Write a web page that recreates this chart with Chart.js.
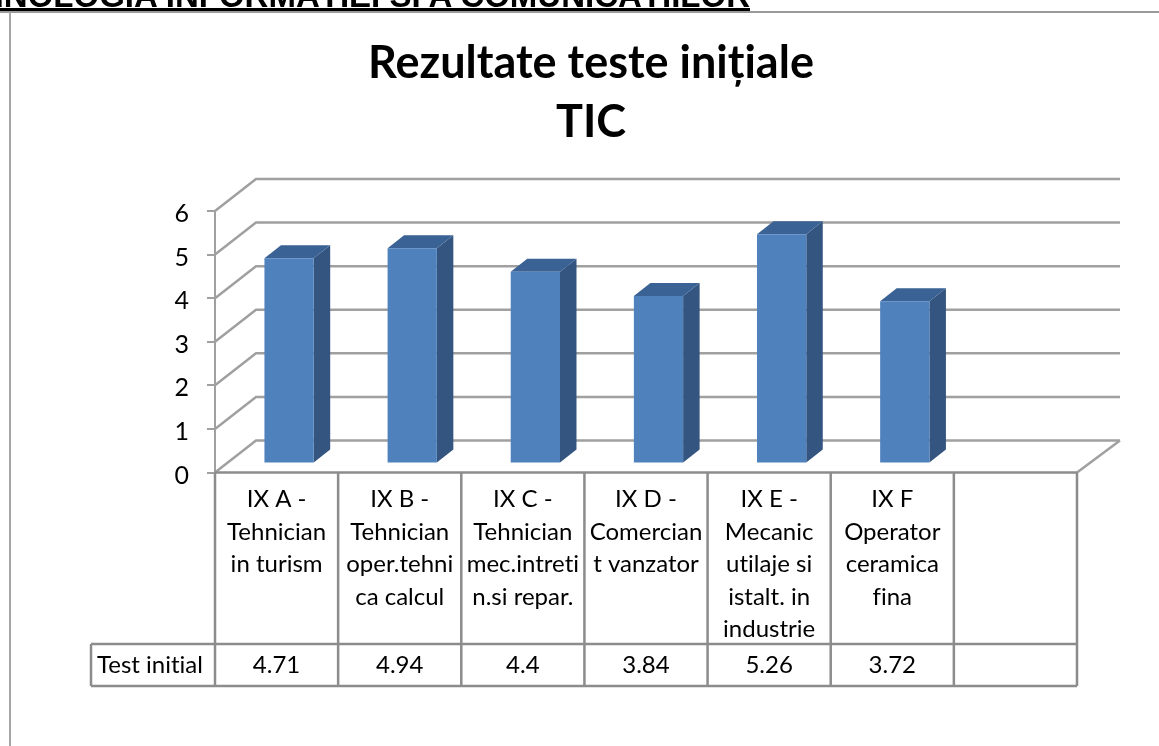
<!DOCTYPE html>
<html>
<head>
<meta charset="utf-8">
<script src="https://cdn.jsdelivr.net/npm/chart.js@4"></script>
<style>
html,body{margin:0;padding:0;background:#fff;width:1159px;height:746px;overflow:hidden}
#wrap{position:relative;width:1159px;height:746px}
#c{position:absolute;left:0;top:0;filter:blur(0.5px)}
#head{position:absolute;left:0;top:-20px;width:750px;height:28px;overflow:hidden;white-space:nowrap;font:bold 33px "Liberation Sans",sans-serif;color:#000;border-bottom:3px solid #000;text-align:right;line-height:31px;direction:rtl}
#rule{position:absolute;left:0;top:11px;width:1159px;height:2px;background:#9a9a9a}
#edge{position:absolute;left:9px;top:12px;width:2px;height:734px;background:#a6a6a6}
</style>
</head>
<body>
<div id="wrap">
<canvas id="c" width="1159" height="746"></canvas>
<div id="rule"></div>
<div id="edge"></div>
<div id="head">TEHNOLOGIA INFORMAȚIEI ȘI A COMUNICAȚIILOR</div>
</div>
<script>
const titleLines = ["Rezultate teste inițiale", "TIC"];
const categories = [
  ["IX A -", "Tehnician", "in turism"],
  ["IX B -", "Tehnician", "oper.tehni", "ca calcul"],
  ["IX C -", "Tehnician", "mec.intreti", "n.si repar."],
  ["IX D -", "Comercian", "t vanzator"],
  ["IX E -", "Mecanic", "utilaje si", "istalt. in", "industrie"],
  ["IX F", "Operator", "ceramica", "fina"],
  ""
];
const seriesName = "Test initial";
const seriesValues = [4.71, 4.94, 4.4, 3.84, 5.26, 3.72, null];
const yTicks = [0, 1, 2, 3, 4, 5, 6];

const FONT = 'Lato, sans-serif';
const GRID = '#a0a0a0';
const TABLE = '#8c8c8c';
const BACK = {dx: 41, dy: -32};
const BAR_SHIFT = {dx: 12.5, dy: -9};
const BAR_DEPTH = {dx: 16.5, dy: -13};

const wall3d = {
  id: 'wall3d',
  beforeDraw(chart) {
    chart.ctx.textRendering = 'optimizeSpeed';
  },
  beforeDatasetsDraw(chart) {
    const {ctx, chartArea: a, scales: {y}} = chart;
    ctx.save();
    ctx.strokeStyle = GRID;
    ctx.lineWidth = 2.5;
    yTicks.forEach(v => {
      const py = y.getPixelForValue(v);
      ctx.beginPath();
      ctx.moveTo(a.left, py);
      ctx.lineTo(a.left + BACK.dx, py + BACK.dy);
      ctx.lineTo(a.right + BACK.dx + 2, py + BACK.dy);
      ctx.stroke();
    });
    const y0 = y.getPixelForValue(0);
    ctx.beginPath();
    ctx.moveTo(a.right, y0);
    ctx.lineTo(a.right + BACK.dx + 2, y0 + BACK.dy);
    ctx.stroke();
    ctx.restore();
    // side and top faces, then shift the library's own bars onto the floor
    const meta = chart.getDatasetMeta(0);
    ctx.save();
    ctx.translate(BAR_SHIFT.dx, BAR_SHIFT.dy);
    meta.data.forEach((bar, i) => {
      if (seriesValues[i] == null) return;
      const p = bar.getProps(['x', 'y', 'base', 'width'], true);
      const l = p.x - p.width / 2, r = p.x + p.width / 2;
      ctx.fillStyle = '#335580';
      ctx.beginPath();
      ctx.moveTo(r, p.y);
      ctx.lineTo(r + BAR_DEPTH.dx, p.y + BAR_DEPTH.dy);
      ctx.lineTo(r + BAR_DEPTH.dx, p.base + BAR_DEPTH.dy);
      ctx.lineTo(r, p.base);
      ctx.closePath();
      ctx.fill();
      ctx.fillStyle = '#3a6294';
      ctx.beginPath();
      ctx.moveTo(l, p.y);
      ctx.lineTo(l + BAR_DEPTH.dx, p.y + BAR_DEPTH.dy);
      ctx.lineTo(r + BAR_DEPTH.dx, p.y + BAR_DEPTH.dy);
      ctx.lineTo(r, p.y);
      ctx.closePath();
      ctx.fill();
    });
    ctx.restore();
    ctx.save();
    ctx.translate(BAR_SHIFT.dx, BAR_SHIFT.dy);
  },
  afterDatasetsDraw(chart) {
    chart.ctx.restore();
    const {ctx, chartArea: a, scales: {x, y}} = chart;
    const y0 = y.getPixelForValue(0);
    const rowTop = 644, rowBottom = 686, tableLeft = 91;
    ctx.save();
    ctx.strokeStyle = TABLE;
    ctx.lineWidth = 2.5;
    const n = categories.length;
    const band = (a.right - a.left) / n;
    ctx.beginPath();
    ctx.moveTo(a.left, y0); ctx.lineTo(a.right, y0);
    ctx.moveTo(tableLeft, rowTop); ctx.lineTo(a.right, rowTop);
    ctx.moveTo(tableLeft, rowBottom); ctx.lineTo(a.right, rowBottom);
    ctx.moveTo(tableLeft, rowTop); ctx.lineTo(tableLeft, rowBottom);
    for (let i = 0; i <= n; i++) {
      const px = i < n ? x.getPixelForValue(i) - band / 2 : x.getPixelForValue(n - 1) + band / 2;
      ctx.moveTo(px, y0); ctx.lineTo(px, rowBottom);
    }
    ctx.stroke();
    ctx.fillStyle = '#000';
    ctx.font = '24px ' + FONT;
    ctx.textBaseline = 'middle';
    ctx.textAlign = 'left';
    ctx.fillText(seriesName, 97, 665);
    ctx.textAlign = 'center';
    seriesValues.forEach((v, i) => {
      if (v != null) ctx.fillText(String(v), x.getPixelForValue(i), 665);
    });
    ctx.restore();
  }
};

new Chart(document.getElementById('c'), {
  type: 'bar',
  data: {
    labels: categories,
    datasets: [{
      label: seriesName,
      data: seriesValues,
      backgroundColor: '#4f81bd',
      barPercentage: 0.4,
      categoryPercentage: 1
    }]
  },
  options: {
    responsive: false,
    animation: false,
    layout: {padding: {left: 105, right: 82, top: 33, bottom: 0}},
    plugins: {
      legend: {display: false},
      tooltip: {enabled: false},
      title: {
        display: true,
        text: titleLines,
        color: '#000',
        font: {family: FONT, weight: 'bold', size: 45, lineHeight: 1.333},
        padding: {top: 0, bottom: 58}
      }
    },
    scales: {
      x: {
        offset: true,
        grid: {display: false},
        border: {display: false},
        afterFit(s) { s.height = 273.5; },
        ticks: {
          autoSkip: false,
          maxRotation: 0,
          minRotation: 0,
          padding: 3,
          color: '#000',
          font: {family: FONT, size: 24, lineHeight: 1.354}
        }
      },
      y: {
        min: 0,
        max: 6,
        afterFit(s) { s.width = 110; },
        grid: {drawOnChartArea: false, drawTicks: true, tickLength: 8, color: GRID, lineWidth: 2},
        border: {display: true, color: GRID, width: 2},
        ticks: {
          stepSize: 1,
          padding: 18,
          labelOffset: 3,
          color: '#000',
          font: {family: FONT, size: 25}
        }
      }
    }
  },
  plugins: [wall3d]
});
</script>
</body>
</html>
